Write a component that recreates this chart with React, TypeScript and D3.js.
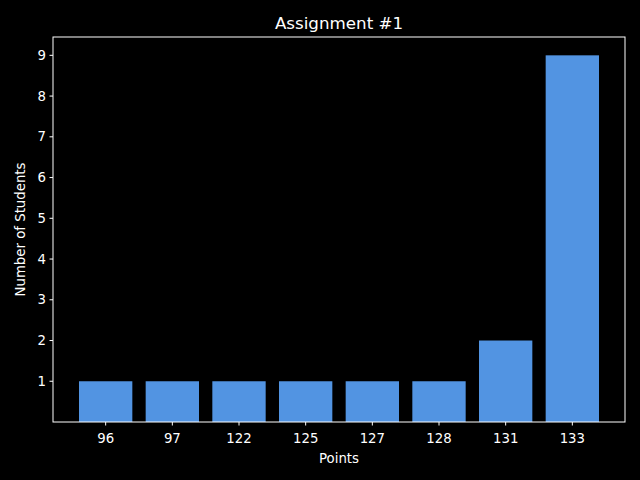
import React from 'react';
import * as d3 from 'd3';

const categories = ['96', '97', '122', '125', '127', '128', '131', '133'];
const counts = [1, 1, 1, 1, 1, 1, 2, 9];
const yTicks = [1, 2, 3, 4, 5, 6, 7, 8, 9];

const W = 640;
const H = 480;
const margin = { top: 37, right: 15, bottom: 58, left: 53 };
const font = 'DejaVu Sans, sans-serif';

export default function App() {
  const innerW = W - margin.left - margin.right;
  const innerH = H - margin.top - margin.bottom;

  // matplotlib-like bar layout: width 0.8, 5% axis margins
  const n = categories.length;
  const lo = -0.4 - 0.05 * (n - 1 + 0.8);
  const hi = n - 1 + 0.4 + 0.05 * (n - 1 + 0.8);
  const x = d3.scaleLinear().domain([lo, hi]).range([0, innerW]);
  const y = d3.scaleLinear().domain([0, d3.max(counts)! * 1.05]).range([innerH, 0]);
  const bw = x(0.8) - x(0);

  return (
    <svg width={W} height={H} style={{ position: 'fixed', left: 0, top: 0, background: '#000' }} fontFamily={font}>
      <rect width={W} height={H} fill="#000" />
      <text x={margin.left + innerW / 2} y={29} fill="#fff" fontSize={16.7} textAnchor="middle">
        Assignment #1
      </text>
      <g transform={`translate(${margin.left},${margin.top})`}>
        {counts.map((v, i) => (
          <rect key={i} x={x(i) - bw / 2} y={y(v)} width={bw} height={innerH - y(v)} fill="#5294E2" />
        ))}
        <rect x={0} y={0} width={innerW} height={innerH} fill="none" stroke="#fff" strokeWidth={1} />
        {yTicks.map(t => (
          <g key={t} transform={`translate(0,${y(t)})`}>
            <line x1={-3.5} x2={0} stroke="#fff" />
            <text x={-7} dy="0.35em" fill="#fff" fontSize={13.3} textAnchor="end">{t}</text>
          </g>
        ))}
        {categories.map((c, i) => (
          <g key={c} transform={`translate(${x(i)},${innerH})`}>
            <line y1={0} y2={3.5} stroke="#fff" />
            <text y={21} fill="#fff" fontSize={13.3} textAnchor="middle">{c}</text>
          </g>
        ))}
        <text x={innerW / 2} y={innerH + 41} fill="#fff" fontSize={13.3} textAnchor="middle">Points</text>
        <text transform={`translate(${-28},${innerH / 2}) rotate(-90)`} fill="#fff" fontSize={13.3} textAnchor="middle">
          Number of Students
        </text>
      </g>
    </svg>
  );
}
